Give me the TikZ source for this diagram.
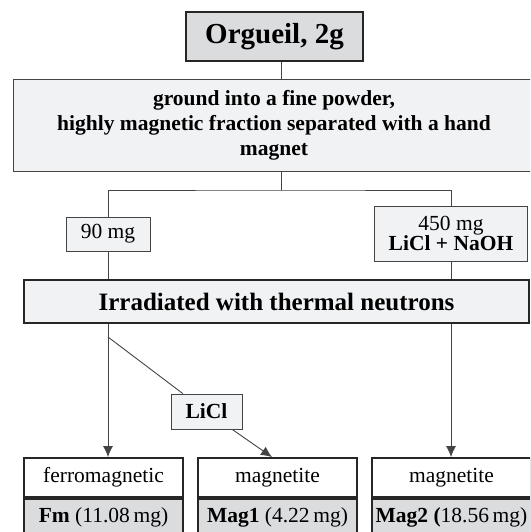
\documentclass[tikz,border=0pt]{standalone}
\usepackage{fontspec}
\setmainfont{Liberation Serif}
\usetikzlibrary{arrows.meta}
\usepackage{xcolor}
\definecolor{boxgray}{HTML}{DBDCDE}
\definecolor{boxlight}{HTML}{F1F2F4}
\definecolor{linegray}{HTML}{444444}

\begin{document}
\begin{tikzpicture}[x=1pt, y=-1pt,
  box/.style={rectangle, draw=linegray, line width=0.9pt, fill=boxlight, align=center, inner sep=0pt, font=\fontsize{21.5}{25}\selectfont},
  heavy/.style={box, draw=black!85, line width=1.8pt},
  sample/.style={heavy, fill=white, minimum width=159pt, minimum height=39pt},
  yield/.style={heavy, fill=boxgray, minimum width=159pt, minimum height=38pt},
  edge/.style={line width=0.9pt, draw=linegray},
  arr/.style={edge, -{Latex[length=11pt,width=10pt]}}
]
\clip (0,0) rectangle (530,532);
\node[heavy, fill=boxgray, minimum width=177pt, minimum height=49pt, font=\fontsize{29}{29}\selectfont\bfseries] (orgueil) at (274.5,36.5) {Orgueil, 2g};
\node[box, minimum width=522pt, minimum height=92.5pt, font=\fontsize{21.5}{25}\selectfont\bfseries] (grind) at (274,125.25) {ground into a fine powder,\\highly magnetic fraction separated with a hand\\magnet};
\node[box, minimum width=84pt, minimum height=34pt] (mg90) at (108,234) {90 mg};
\node[box, minimum width=153pt, minimum height=55pt, font=\fontsize{21.5}{20}\selectfont] (mg450) at (451,233.5) {450 mg\\\textbf{LiCl + NaOH}};
\node[heavy, minimum width=505pt, minimum height=43pt, font=\fontsize{25}{25}\selectfont\bfseries] (irr) at (276.5,301.5) {Irradiated with thermal neutrons};
\node[box, minimum width=71pt, minimum height=35pt, font=\fontsize{21.5}{25}\selectfont\bfseries] (licl) at (206.5,411.5) {LiCl};
% products
\node[sample] (ferro) at (103.5,477.5) {ferromagnetic};
\node[yield, anchor=north] (fm) at (ferro.south) {\textbf{Fm} (11.08\,mg)};
\node[sample] (magite1) at (277.5,477.5) {magnetite};
\node[yield, anchor=north] (mag1) at (magite1.south) {\textbf{Mag1} (4.22\,mg)};
\node[sample] (magite2) at (451.5,477.5) {magnetite};
\node[yield, anchor=north] (mag2) at (magite2.south) {\textbf{Mag2 (}18.56\,mg)};
% connectors
\coordinate (split) at (281,190);
\coordinate (kink) at (108,337);
\draw[edge] (orgueil.south -| split) -- (grind.north -| split);
\draw[edge] (grind.south -| split) -- (split);
\draw[edge] (mg90.north) |- (split) -| (mg450.north);
\draw[edge] (mg90.south) -- (mg90.south |- irr.north);
\draw[edge] (mg450.south) -- (mg450.south |- irr.north);
\draw[arr] (irr.south -| mg90) -- (ferro.north -| mg90);
\draw[edge] (kink) -- (licl);
\draw[arr] (licl) -- ([xshift=-5.5pt]magite1.north);
\draw[arr] (irr.south -| mg450) -- (magite2.north -| mg450);
\end{tikzpicture}
\end{document}
